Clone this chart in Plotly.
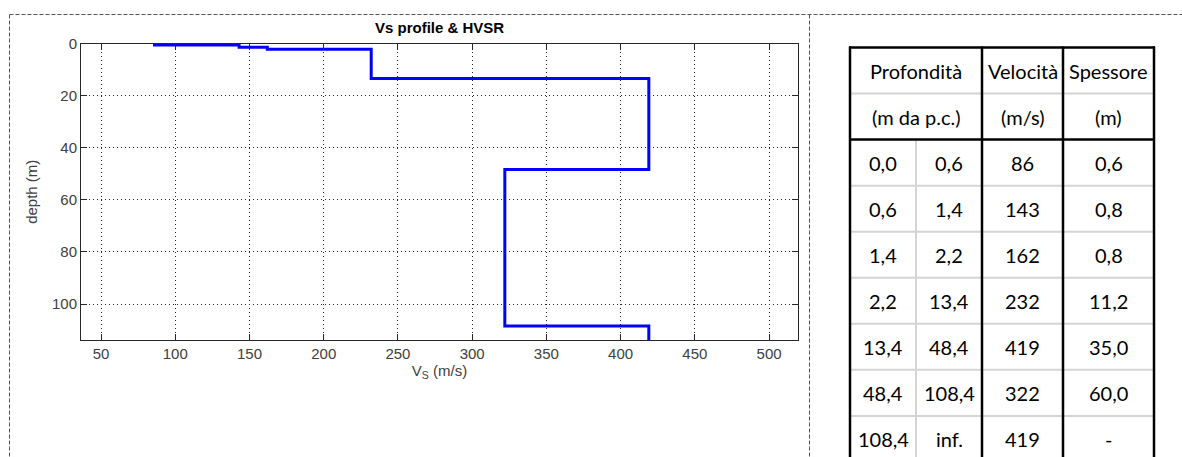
import plotly.graph_objects as go

# ---- layered shear-wave velocity model ----
layer_top = [0.0, 0.6, 1.4, 2.2, 13.4, 48.4, 108.4]
layer_bottom = [0.6, 1.4, 2.2, 13.4, 48.4, 108.4, None]  # None -> half-space
vs = [86, 143, 162, 232, 419, 322, 419]

x_ticks = [50, 100, 150, 200, 250, 300, 350, 400, 450, 500]
y_ticks = [0, 20, 40, 60, 80, 100]

header_top = ["Profondità", "Velocità", "Spessore"]
header_units = ["(m da p.c.)", "(m/s)", "(m)"]

# ---- page geometry (pixels) ----
W, H = 1182, 457
X_RANGE = [36.5, 519.5]
DEPTH_MAX = 113.8
PLOT_L, PLOT_R, PLOT_T, PLOT_B = 81, 798, 43.5, 340

AX_COL = "#262626"
LBL_COL = "#404040"
AX_FONT = "Liberation Sans, Arial, sans-serif"
TAB_FONT = "Lato, Carlito, sans-serif"


def fmt(v):
    return f"{v:.1f}".replace(".", ",")


# stepped Vs(depth) path
px, py = [], []
for top, bot, v in zip(layer_top, layer_bottom, vs):
    px += [v, v]
    py += [top, DEPTH_MAX if bot is None else bot]

fig = go.Figure()
fig.add_trace(go.Scatter(
    x=px, y=py, mode="lines",
    line=dict(color="#0000ff", width=3),
    hoverinfo="skip", showlegend=False,
))
# empty trace so the pixel-space helper axes exist
fig.add_trace(go.Scatter(x=[], y=[], xaxis="x2", yaxis="y2",
                         hoverinfo="skip", showlegend=False))

axis_common = dict(
    ticks="inside", ticklen=6, tickwidth=1, tickcolor=AX_COL,
    showline=True, linecolor=AX_COL, linewidth=1, mirror="ticks",
    showgrid=True, gridcolor=AX_COL, gridwidth=1, griddash="1px,3px",
    zeroline=False, fixedrange=True, automargin=False,
    tickfont=dict(family=AX_FONT, size=15, color=LBL_COL),
)

fig.update_layout(
    width=W, height=H, autosize=False,
    margin=dict(l=0, r=0, t=0, b=0, pad=0, autoexpand=False),
    paper_bgcolor="white", plot_bgcolor="rgba(0,0,0,0)",
    showlegend=False,
    xaxis=dict(
        domain=[PLOT_L / W, PLOT_R / W], anchor="y",
        range=X_RANGE, tickvals=x_ticks,
        title=dict(text="V<sub>S</sub> (m/s)", standoff=4,
                   font=dict(family=AX_FONT, size=15, color=LBL_COL)),
        **axis_common,
    ),
    yaxis=dict(
        domain=[1 - PLOT_B / H, 1 - PLOT_T / H], anchor="x",
        range=[DEPTH_MAX, 0], tickvals=y_ticks,
        title=dict(text="depth (m)", standoff=10,
                   font=dict(family=AX_FONT, size=15, color=LBL_COL)),
        **axis_common,
    ),
    xaxis2=dict(domain=[0, 1], range=[0, W], anchor="y2", visible=False,
                fixedrange=True, automargin=False),
    yaxis2=dict(domain=[0, 1], range=[H, 0], anchor="x2", visible=False,
                fixedrange=True, automargin=False),
)

shapes = []
annotations = []

# panel title
annotations.append(dict(
    text="<b>Vs profile & HVSR</b>", x=(PLOT_L + PLOT_R) / 2, y=27,
    xref="x2", yref="y2", showarrow=False, xanchor="center", yanchor="middle",
    font=dict(family=AX_FONT, size=15, color="black"),
))

# dashed panel frame
frame = dict(type="line", xref="x2", yref="y2",
             line=dict(color="#555555", width=1, dash="4px,2px"))
shapes.append(dict(frame, x0=9.5, x1=W, y0=14.5, y1=14.5))
shapes.append(dict(frame, x0=9.5, x1=9.5, y0=14.5, y1=H + 5))
shapes.append(dict(frame, x0=809.5, x1=809.5, y0=14.5, y1=H + 5))

# ---- layer table ----
COL_X = [850, 916, 982, 1063, 1154]
TAB_TOP, ROW_H = 47.5, 46.05
n_rows = 2 + len(vs)


def row_y(k):
    return TAB_TOP + k * ROW_H


GRAY = "#d4d4d4"
gray_line = dict(type="line", xref="x2", yref="y2", line=dict(color=GRAY, width=2))
black_line = dict(type="line", xref="x2", yref="y2", line=dict(color="black", width=2.5))

# light rules first, black rules on top
for k in range(n_rows + 1):
    if k not in (0, 2):
        shapes.append(dict(gray_line, x0=COL_X[0], x1=COL_X[-1], y0=row_y(k), y1=row_y(k)))
shapes.append(dict(gray_line, x0=COL_X[1], x1=COL_X[1], y0=row_y(2), y1=row_y(n_rows)))
for k in (0, 2):
    shapes.append(dict(black_line, x0=COL_X[0] - 1, x1=COL_X[-1] + 1, y0=row_y(k), y1=row_y(k)))
for cx in (COL_X[0], COL_X[2], COL_X[3], COL_X[4]):
    shapes.append(dict(black_line, x0=cx, x1=cx, y0=row_y(0) - 1, y1=row_y(n_rows)))


def cell_text(text, x, k):
    annotations.append(dict(
        text=text, x=x, y=(row_y(k) + row_y(k + 1)) / 2,
        xref="x2", yref="y2", showarrow=False,
        xanchor="center", yanchor="middle",
        font=dict(family=TAB_FONT, size=20, color="black"),
    ))


header_x = [(COL_X[0] + COL_X[2]) / 2, (COL_X[2] + COL_X[3]) / 2, (COL_X[3] + COL_X[4]) / 2]
for hx, t1, t2 in zip(header_x, header_top, header_units):
    cell_text(t1, hx, 0)
    cell_text(t2, hx, 1)

centers = [(COL_X[i] + COL_X[i + 1]) / 2 for i in range(4)]
for i, (top, bot, v) in enumerate(zip(layer_top, layer_bottom, vs)):
    row = [
        fmt(top),
        "inf." if bot is None else fmt(bot),
        str(v),
        "-" if bot is None else fmt(bot - top),
    ]
    for cx, t in zip(centers, row):
        cell_text(t, cx, 2 + i)

fig.update_layout(shapes=shapes, annotations=annotations)

fig.write_html("out.html", config={"displayModeBar": False, "staticPlot": True})
